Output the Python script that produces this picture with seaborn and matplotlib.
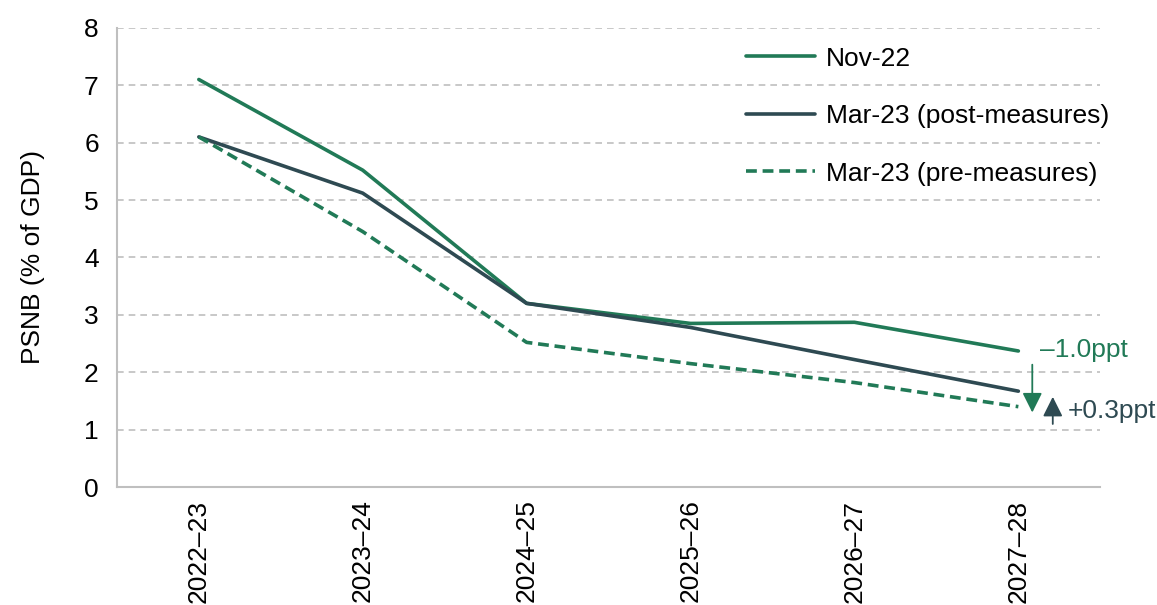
import seaborn as sns
import matplotlib.pyplot as plt
import pandas as pd

sns.set_style("white")
plt.rcParams['font.family'] = ['Liberation Sans', 'DejaVu Sans']
plt.rcParams['text.color'] = 'black'
plt.rcParams['axes.labelcolor'] = 'black'

# Fiscal years and PSNB forecasts (% of GDP)
years = ['2022\u201323', '2023\u201324', '2024\u201325', '2025\u201326', '2026\u201327', '2027\u201328']
nov22 = [7.1, 5.52, 3.2, 2.85, 2.87, 2.37]
mar23_post = [6.1, 5.12, 3.2, 2.78, 2.22, 1.67]
mar23_pre = [6.1, 4.45, 2.52, 2.15, 1.82, 1.4]

green = '#217A57'
dark = '#2E4A52'
grid_c = '#BFBFBF'
fs = 19

df = pd.DataFrame({
    'x': list(range(len(years))) * 3,
    'value': nov22 + mar23_post + mar23_pre,
    'series': ['Nov-22'] * 6 + ['Mar-23 (post-measures)'] * 6 + ['Mar-23 (pre-measures)'] * 6,
})

fig = plt.figure(figsize=(11.57, 6.05), dpi=100)
ax = fig.add_axes([0.101, 0.195, 0.85, 0.759])

sns.lineplot(data=df, x='x', y='value', hue='series', style='series',
             palette={'Nov-22': green, 'Mar-23 (post-measures)': dark,
                      'Mar-23 (pre-measures)': green},
             dashes={'Nov-22': '', 'Mar-23 (post-measures)': '',
                     'Mar-23 (pre-measures)': (3, 1.6)},
             linewidth=2.6, ax=ax)

ax.set_xlim(-0.5, 5.5)
ax.set_ylim(0, 8)
ax.set_yticks(range(0, 9))
for v in range(1, 9):
    ax.axhline(v, color=grid_c, lw=1.2, ls=(0, (4, 3)), zorder=0)

ax.set_xticks(range(len(years)))
ax.set_xticklabels(years, rotation=90, fontsize=fs)
ax.set_xticks([i - 0.5 for i in range(len(years) + 1)], minor=True)
ax.tick_params(axis='x', which='major', length=0, pad=9, labelcolor='black')
ax.tick_params(axis='x', which='minor', length=7, color=grid_c, width=1.2)
ax.tick_params(axis='y', length=8, color=grid_c, width=1.2, labelsize=fs, pad=5,
               labelcolor='black')

for s in ['top', 'right']:
    ax.spines[s].set_visible(False)
for s in ['left', 'bottom']:
    ax.spines[s].set_color(grid_c)
    ax.spines[s].set_linewidth(1.5)

ax.set_xlabel('')
ax.set_ylabel('PSNB (% of GDP)', fontsize=fs, labelpad=28)

leg = ax.legend(loc='upper left', bbox_to_anchor=(0.616, 1.011), frameon=False,
                fontsize=fs, handlelength=2.6, labelspacing=1.27, handletextpad=0.4)

# change annotations
ax.annotate('', xy=(5.085, 1.25), xytext=(5.085, 2.18),
            arrowprops=dict(arrowstyle='-|>', color=green, lw=1.3, mutation_scale=30))
ax.text(5.13, 2.38, '\u20131.0ppt', color=green, fontsize=fs, va='center', ha='left')
ax.annotate('', xy=(5.21, 1.62), xytext=(5.21, 1.05),
            arrowprops=dict(arrowstyle='-|>', color=dark, lw=1.3, mutation_scale=30))
ax.text(5.30, 1.33, '+0.3ppt', color=dark, fontsize=fs, va='center', ha='left')

fig.savefig('out.png', dpi=100)
